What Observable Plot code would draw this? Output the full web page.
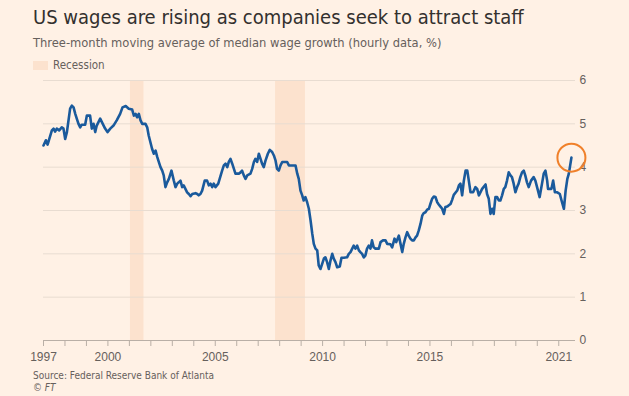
<!DOCTYPE html>
<html>
<head>
<meta charset="utf-8">
<script src="https://cdn.jsdelivr.net/npm/d3@7"></script>
<script src="https://cdn.jsdelivr.net/npm/@observablehq/plot@0.6"></script>
<style>
  html, body { margin: 0; padding: 0; background: #FFF1E5; }
  body { width: 629px; height: 396px; overflow: hidden; font-family: "Liberation Sans Narrow", "DejaVu Sans Condensed", sans-serif; }
  #head { position: relative; height: 72px; }
  #title { position: absolute; left: 33px; top: 5px; font-size: 20px; color: #33302E; white-space: nowrap; }
  #subtitle { position: absolute; left: 33px; top: 35px; font-size: 12.8px; color: #66605C; white-space: nowrap; }
  #legend { position: absolute; left: 33px; top: 58px; font-size: 11.5px; color: #66605C; white-space: nowrap; }
  #legend .sw { display: inline-block; width: 15px; height: 9px; background: #FCE2CE; vertical-align: -1px; margin-right: 5px; }
  #chart svg { display: block; }
  #caption { position: absolute; left: 33px; top: 370px; font-size: 10px; color: #66605C; line-height: 12px; }
</style>
</head>
<body>
<div id="head">
  <div id="title">US wages are rising as companies seek to attract staff</div>
  <div id="subtitle">Three-month moving average of median wage growth (hourly data, %)</div>
  <div id="legend"><span class="sw"></span>Recession</div>
</div>
<div id="chart"></div>
<div id="caption">Source: Federal Reserve Bank of Atlanta<br><i>© FT</i></div>
<script>
// Decimal-year dates and values (%)
const dates = [
1997.00,1997.11,1997.19,1997.39,1997.47,1997.54,1997.62,1997.73,1997.85,1997.93,
1998.01,1998.09,1998.24,1998.32,1998.40,1998.48,1998.55,1998.63,1998.71,1998.78,1998.94,
1999.02,1999.17,1999.25,1999.33,1999.41,1999.48,1999.64,1999.72,1999.87,1999.98,
2000.11,2000.26,2000.41,2000.57,2000.68,2000.83,2000.97,
2001.13,2001.21,2001.29,2001.36,2001.44,2001.52,2001.60,2001.75,2001.83,2001.90,
2002.06,2002.14,2002.22,2002.30,2002.37,2002.45,2002.53,2002.60,2002.68,2002.76,2002.84,2002.96,
2003.07,2003.15,2003.23,2003.30,2003.38,2003.46,2003.53,2003.61,2003.69,2003.77,2003.85,2003.93,
2004.08,2004.16,2004.23,2004.31,2004.39,2004.51,2004.62,2004.70,2004.78,2004.86,2004.93,
2005.01,2005.14,2005.24,2005.32,2005.40,2005.48,2005.56,2005.63,2005.71,2005.79,2005.87,2005.94,
2006.10,2006.18,2006.25,2006.33,2006.41,2006.49,2006.64,2006.72,2006.80,2006.87,2006.95,
2007.03,2007.11,2007.18,2007.26,2007.34,2007.45,2007.54,2007.65,2007.73,2007.81,2007.88,2007.96,
2008.04,2008.12,2008.35,2008.43,2008.74,2008.82,2008.89,2008.97,
2009.05,2009.12,2009.20,2009.28,2009.36,2009.44,2009.52,2009.59,2009.67,2009.75,2009.82,2009.90,2009.98,
2010.06,2010.13,2010.21,2010.29,2010.37,2010.45,2010.52,2010.60,2010.68,2010.80,2010.88,2010.99,
2011.14,2011.22,2011.30,2011.38,2011.45,2011.53,2011.61,2011.69,2011.76,2011.84,2011.92,2011.99,
2012.07,2012.15,2012.23,2012.30,2012.38,2012.46,2012.62,2012.70,2012.80,2012.93,
2013.01,2013.16,2013.24,2013.35,2013.43,2013.55,2013.63,2013.71,2013.78,2013.86,2013.94,
2014.01,2014.09,2014.17,2014.25,2014.33,2014.40,2014.48,2014.56,2014.64,2014.71,2014.79,2014.87,2014.95,
2015.02,2015.10,2015.18,2015.26,2015.34,2015.41,2015.49,2015.57,2015.65,2015.72,2015.80,2015.88,2015.96,
2016.03,2016.11,2016.27,2016.35,2016.42,2016.50,2016.58,2016.66,2016.74,2016.81,2016.89,
2017.01,2017.12,2017.20,2017.28,2017.35,2017.43,2017.59,2017.66,2017.74,2017.82,2017.90,2017.97,
2018.05,2018.13,2018.21,2018.28,2018.36,2018.44,2018.51,2018.59,2018.67,2018.75,2018.82,2018.90,2018.98,
2019.06,2019.13,2019.21,2019.29,2019.37,2019.44,2019.52,2019.60,2019.71,2019.83,2019.91,2019.99,
2020.11,2020.22,2020.30,2020.38,2020.46,2020.50,2020.58,2020.66,2020.74,2020.82,2020.93,
2021.05,2021.13,2021.24,2021.32,2021.40,2021.47,2021.59
];
const wageGrowth = [
4.50,4.62,4.52,4.85,4.89,4.82,4.89,4.85,4.92,4.89,
4.65,4.81,5.35,5.42,5.38,5.23,5.12,5.00,4.92,4.98,4.98,
5.19,5.19,4.89,5.00,4.81,4.96,5.12,5.04,4.89,4.81,
4.89,4.96,5.08,5.23,5.38,5.41,5.35,
5.33,5.19,5.23,5.15,5.23,5.08,5.00,5.00,4.92,4.73,
4.42,4.31,4.38,4.23,4.12,4.00,3.92,3.81,3.54,3.65,3.73,3.92,
3.69,3.54,3.62,3.65,3.69,3.54,3.58,3.50,3.42,3.38,3.33,3.38,
3.40,3.38,3.35,3.38,3.46,3.69,3.69,3.58,3.62,3.54,3.62,
3.54,3.62,3.79,3.92,4.04,4.08,4.00,4.12,4.19,4.08,3.96,3.85,
3.85,3.88,3.92,3.81,3.73,3.81,3.85,3.96,4.12,4.19,4.12,
4.31,4.19,4.08,4.00,4.15,4.31,4.40,4.35,4.27,4.15,3.96,3.92,
4.04,4.12,4.12,4.04,4.04,3.85,3.73,3.46,
3.35,3.23,3.31,3.19,3.04,2.77,2.46,2.23,2.12,2.08,1.73,1.65,1.77,
1.89,1.92,1.81,1.65,1.85,2.00,1.89,1.81,1.69,1.71,1.91,1.91,
1.92,2.00,2.04,2.12,2.19,2.12,2.19,2.08,2.04,2.00,1.92,1.96,
2.12,2.19,2.12,2.31,2.15,2.12,2.12,2.27,2.31,2.31,
2.23,2.22,2.15,2.35,2.27,2.42,2.23,2.04,2.23,2.38,2.50,
2.42,2.35,2.31,2.31,2.38,2.42,2.54,2.69,2.88,2.94,2.96,3.02,3.04,
3.15,3.27,3.32,3.31,3.19,3.14,3.09,3.04,2.92,3.08,3.09,3.12,3.15,
3.24,3.36,3.46,3.58,3.62,3.35,3.69,3.92,3.92,3.69,3.42,
3.42,3.54,3.50,3.35,3.42,3.50,3.60,3.38,3.27,2.92,3.04,2.92,
3.31,3.31,3.23,3.23,3.35,3.50,3.54,3.69,3.88,3.81,3.77,3.62,3.42,
3.54,3.62,3.77,3.88,3.92,3.81,3.65,3.54,3.69,3.77,3.69,3.54,
3.31,3.62,3.85,3.92,3.69,3.50,3.50,3.50,3.69,3.42,3.42,
3.38,3.23,3.04,3.46,3.73,3.85,4.22
];
// Recession periods (decimal years, as drawn)
const recessionStart = [2001.05, 2007.81];
const recessionEnd = [2001.68, 2009.20];
const yearTicks = d3.range(1997, 2022);
const labelledYears = [1997, 2000, 2005, 2010, 2015, 2021];
const yTicks = [0, 1, 2, 3, 4, 5, 6];

const series = dates.map((d, i) => ({date: d, value: wageGrowth[i]}));
const recessions = recessionStart.map((s, i) => ({start: s, end: recessionEnd[i]}));
const last = series[series.length - 1];

const chart = Plot.plot({
  width: 629,
  height: 296,
  marginLeft: 43,
  marginRight: 54,
  marginTop: 8,
  marginBottom: 28,
  style: {background: "transparent", fontFamily: "'Liberation Sans', sans-serif", fontSize: "12px", color: "#66605C", overflow: "visible"},
  x: {domain: [1997, 2021.78]},
  y: {domain: [0, 6]},
  marks: [
    Plot.rectX(recessions, {x1: "start", x2: "end", y1: 0, y2: 6, fill: "#FCE2CE"}),
    Plot.ruleY(yTicks.filter(d => d > 0), {stroke: "#E8DCD1", strokeWidth: 1}),
    Plot.ruleY([0], {stroke: "#B9AFA6", strokeWidth: 1}),
    Plot.axisX({ticks: yearTicks, tickSize: 6, tickPadding: 6, stroke: "#B9AFA6", fill: "#66605C",
      tickFormat: d => labelledYears.includes(d) ? String(d) : "", fontSize: 12, label: null}),
    Plot.axisY({anchor: "right", ticks: yTicks, tickSize: 0, tickPadding: 4, textAnchor: "start", fill: "#66605C",
      tickFormat: d => String(d), fontSize: 12, label: null}),
    Plot.line(series, {x: "date", y: "value", stroke: "#1A5A9C", strokeWidth: 2.6, strokeLinejoin: "round"}),
    Plot.dot([last], {x: "date", y: "value", r: 14, stroke: "#F0802A", strokeWidth: 2, fill: "none"})
  ]
});
document.getElementById("chart").appendChild(chart);
</script>
</body>
</html>
